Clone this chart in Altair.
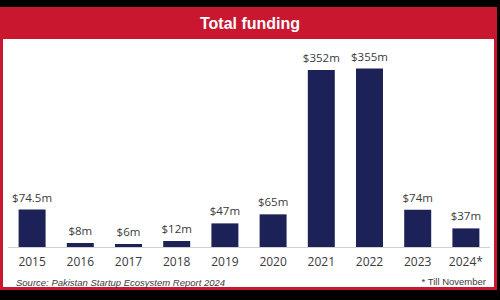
import altair as alt
import pandas as pd

years = ["2015", "2016", "2017", "2018", "2019", "2020", "2021", "2022", "2023", "2024"]
year_labels = ["2015", "2016", "2017", "2018", "2019", "2020", "2021", "2022", "2023", "2024*"]
funding = [74.5, 8, 6, 12, 47, 65, 352, 355, 74, 37]
value_labels = ["$74.5m", "$8m", "$6m", "$12m", "$47m", "$65m", "$352m", "$355m", "$74m", "$37m"]

title_text = "Total funding"
source_text = "Source: Pakistan Startup Ecosystem Report 2024"
note_text = "* Till November"

df = pd.DataFrame({"year": years, "ylabel": year_labels, "value": funding, "vlabel": value_labels})

RED = "#c8172f"
NAVY = "#1c2157"
TEXT = "#3a3a3a"

one = alt.Data(values=[{}])

xs = alt.X("year:N", sort=years, axis=None,
           scale=alt.Scale(range=[8, 490], paddingInner=0.44, paddingOuter=0.22))
ys = alt.Y("value:Q", axis=None, scale=alt.Scale(domain=[0, 400], range=[247, 46]))

frame = alt.Chart(one).mark_rect(color=RED).encode(
    x=alt.value(0), x2=alt.value(497), y=alt.value(7), y2=alt.value(290))
panel = alt.Chart(one).mark_rect(color="white").encode(
    x=alt.value(3), x2=alt.value(494), y=alt.value(39), y2=alt.value(287))

title = alt.Chart(one).mark_text(
    text=title_text, font="Liberation Sans", fontWeight="bold", fontSize=16,
    color="white", align="center", baseline="middle").encode(
    x=alt.value(250), y=alt.value(24))

bars = alt.Chart(df).mark_bar(color=NAVY).encode(x=xs, y=ys)

vlabels = alt.Chart(df).mark_text(
    font="Open Sans", fontSize=11.5, color=TEXT, baseline="bottom", dy=-6).encode(
    x=xs, y=ys, text="vlabel:N")

ylabels = alt.Chart(df).mark_text(
    font="Open Sans", fontSize=12, color=TEXT, baseline="middle").encode(
    x=xs, y=alt.value(262), text="ylabel:N")

baseline = alt.Chart(one).mark_rule(color="#d0d0d0", strokeWidth=1).encode(
    x=alt.value(8), x2=alt.value(490), y=alt.value(247.5))

source = alt.Chart(one).mark_text(
    text=source_text, font="Liberation Sans", fontStyle="italic", fontSize=9.5,
    color=TEXT, align="left", baseline="middle").encode(
    x=alt.value(16), y=alt.value(283))

note = alt.Chart(one).mark_text(
    text=note_text, font="Liberation Sans", fontSize=9.5,
    color=TEXT, align="right", baseline="middle").encode(
    x=alt.value(486), y=alt.value(282))

chart = alt.layer(frame, panel, title, baseline, bars, vlabels, ylabels, source, note).properties(
    width=500, height=300, padding=0, background="black",
    autosize=alt.AutoSizeParams(type="none")
).configure_view(stroke=None)

chart.save("out.html", embed_options={"renderer": "svg", "actions": False})
